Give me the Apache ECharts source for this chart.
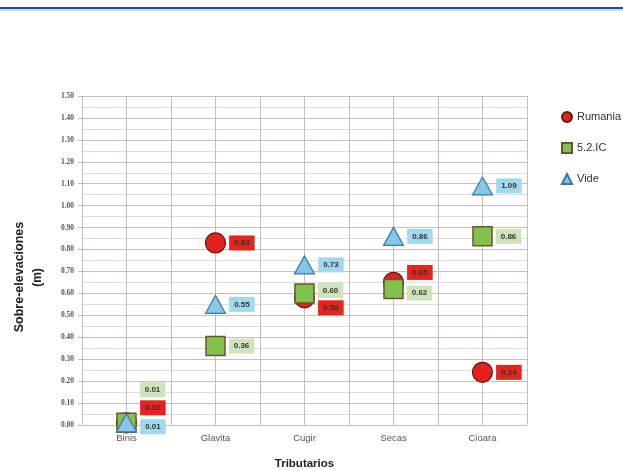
<!DOCTYPE html>
<html><head><meta charset="utf-8">
<script src="https://cdn.jsdelivr.net/npm/echarts@6/dist/echarts.min.js"></script>
<style>html,body{margin:0;padding:0;background:#fff}#c{width:623px;height:470px}</style>
</head><body><div id="c"></div>
<script>
var categories = ['Binis', 'Glavita', 'Cugir', 'Secas', 'Cioara'];
var rumania = [0.01, 0.83, 0.58, 0.65, 0.24];
var ic52 = [0.01, 0.36, 0.60, 0.62, 0.86];
var vide = [0.01, 0.55, 0.73, 0.86, 1.09];
var seriesNames = ['Rumania', '5.2.IC', 'Vide'];

// label vertical offsets (style only)
var offRum = [-15, 0, 10, -10, 0];
var offIc = [-33, 0, -3, 4, 0];
var offVide = [4, 0, 0, 0, 0];

function mk(vals, offs, bg) {
  return vals.map(function (v, i) {
    return { value: v, label: { offset: [0, offs[i]], backgroundColor: bg } };
  });
}
var lbl = {
  show: true, position: 'right', distance: 3,
  formatter: function (p) { return p.value.toFixed(2); },
  color: '#333', fontSize: 8, fontWeight: 'bold', fontFamily: 'Liberation Sans',
  padding: [4, 5, 3, 5]
};
var chart = echarts.init(document.getElementById('c'));
chart.setOption({
  animation: false,
  graphic: [
    { type: 'rect', shape: { x: 0, y: 7, width: 623, height: 2 }, style: { fill: '#1f5488' } },
    { type: 'rect', shape: { x: 0, y: 9.5, width: 623, height: 1 }, style: { fill: '#9ab3cf' } },
    { type: 'text', style: { text: 'Sobre-elevaciones', fontSize: 12.5, fontWeight: 'bold', fill: '#222', fontFamily: 'Liberation Sans', textAlign: 'center', textVerticalAlign: 'middle' }, rotation: Math.PI / 2, x: 20, y: 277 }
  ],
  legend: {
    orient: 'vertical', left: 556, top: 106, itemGap: 19, itemWidth: 10, itemHeight: 10,
    textStyle: { fontSize: 11, color: '#333', fontFamily: 'Liberation Sans' },
    data: seriesNames
  },
  grid: { left: 82, right: 96, top: 96, bottom: 45, outerBoundsMode: 'none', containLabel: false },
  xAxis: [
    {
      type: 'category', data: categories, boundaryGap: true,
      axisLine: { show: false }, axisTick: { show: false }, splitLine: { show: false },
      axisLabel: { color: '#555', fontSize: 9.5, margin: 8, fontFamily: 'Liberation Sans' },
      name: 'Tributarios', nameLocation: 'middle', nameGap: 33,
      nameTextStyle: { fontSize: 11.5, fontWeight: 'bold', color: '#222', fontFamily: 'Liberation Sans' }
    },
    {
      type: 'value', min: 0, max: 10, interval: 1, position: 'bottom',
      axisLine: { show: false }, axisTick: { show: false }, axisLabel: { show: false },
      splitLine: { show: true, lineStyle: { color: '#c9bcb6', width: 1 } }
    }
  ],
  yAxis: {
    type: 'value', min: 0, max: 1.5, interval: 0.1,
    axisLine: { show: false },
    axisTick: { show: true, length: 4, lineStyle: { color: '#c9bcb6' } },
    axisLabel: { formatter: function (v) { return v.toFixed(2); }, fontSize: 7.5, fontWeight: 'bold', color: '#555', fontFamily: 'Liberation Serif', margin: 8 },
    splitLine: { lineStyle: { color: '#cbbdb7', width: 1 } },
    minorTick: { show: false, splitNumber: 2 },
    minorSplitLine: { show: true, lineStyle: { color: '#e2dcda', width: 1 } },
    name: '(m)', nameLocation: 'middle', nameGap: 38, nameRotate: 90,
    nameTextStyle: { fontSize: 12, fontWeight: 'bold', color: '#222', fontFamily: 'Liberation Sans', padding: [0, 0, 0, -34] }
  },
  series: [
    {
      name: 'Rumania', type: 'scatter', symbol: 'circle', symbolSize: 20,
      itemStyle: { color: '#e3221f', borderColor: '#5a1a14', borderWidth: 1.2, opacity: 1 },
      label: lbl, data: mk(rumania, offRum, '#e8231f'), z: 2
    },
    {
      name: '5.2.IC', type: 'scatter', symbol: 'rect', symbolSize: 19,
      itemStyle: { color: '#80c24a', borderColor: '#6b5436', borderWidth: 1.5, opacity: 1 },
      label: lbl, data: mk(ic52, offIc, '#cfe4bd'), z: 3
    },
    {
      name: 'Vide', type: 'scatter', symbol: 'triangle', symbolSize: [20, 18],
      itemStyle: { color: '#86c6e8', borderColor: '#3d7aa8', borderWidth: 1.2, opacity: 1 },
      label: lbl, data: mk(vide, offVide, '#a2d8ee'), z: 4
    }
  ]
});
</script></body></html>
